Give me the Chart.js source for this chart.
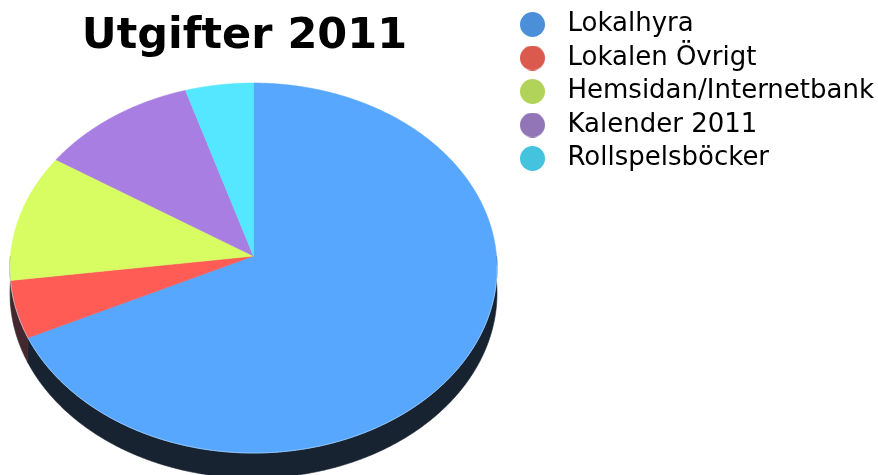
<!DOCTYPE html>
<html>
<head>
<meta charset="utf-8">
<script src="https://cdn.jsdelivr.net/npm/chart.js@4"></script>
<style>
  html, body { margin: 0; padding: 0; background: #fff; }
  #wrap { width: 878px; height: 475px; position: relative; }
</style>
</head>
<body>
<div id="wrap"><canvas id="pie"></canvas></div>
<script>
var labels = ["Lokalhyra", "Lokalen Övrigt", "Hemsidan/Internetbank", "Kalender 2011", "Rollspelsböcker"];
var amounts = [6790, 500, 1120, 1110, 480];
var sliceColors = ["#57a7fe", "#fe5c55", "#d7fd63", "#a97ee3", "#55e7ff"];
var legendColors = ["#4a8fd8", "#db5a4e", "#b1d35a", "#9175b7", "#43c3de"];

var FONT = "'DejaVu Sans', Verdana, sans-serif";

// mix a hex colour towards a dark navy for the pie's side wall
function shade(hex, t) {
    var n = parseInt(hex.slice(1), 16);
    var r = (n >> 16) & 255, g = (n >> 8) & 255, b = n & 255;
    var dr = 20, dg = 28, db = 38;
    return "rgb(" + Math.round(r * (1 - t) + dr * t) + "," + Math.round(g * (1 - t) + dg * t) + "," + Math.round(b * (1 - t) + db * t) + ")";
}

// little round markers for the legend
function dot(color) {
    var c = document.createElement("canvas");
    c.width = 25; c.height = 25;
    var x = c.getContext("2d");
    x.fillStyle = color;
    x.beginPath();
    x.arc(12.5, 12.5, 12.5, 0, Math.PI * 2);
    x.fill();
    return c;
}

// draws the pie tilted, with a bit of perspective and a dark side wall
var pie3d = {
    id: "pie3d",
    afterLayout: function (chart) {
        // title sits a touch left of the chart area centre
        if (chart.titleBlock) {
            chart.titleBlock.left -= 14;
            chart.titleBlock.width += 14;
        }
    },
    beforeDatasetsDraw: function (chart) {
        var meta = chart.getDatasetMeta(0);
        var ctx = chart.ctx;
        var first = meta.data[0];
        var R = first.outerRadius;
        var cx = first.x + 2, cy = first.y - 16.8;
        var rx = R * 1.2018, ry = R * 0.911, k = 0.065, depth = R * 0.124;
        var pt = function (a, dz) {
            var s = 1 / (1 - k * Math.sin(a));
            return [cx + rx * Math.cos(a) * s, cy + ry * Math.sin(a) * s + dz];
        };
        var step = 0.005;

        // side wall (front half only)
        meta.data.forEach(function (arc, i) {
            for (var n = -1; n <= 1; n++) {
                var lo = Math.max(arc.startAngle, 2 * Math.PI * n);
                var hi = Math.min(arc.endAngle, Math.PI + 2 * Math.PI * n);
                if (hi <= lo) continue;
                ctx.save();
                ctx.beginPath();
                var a, p;
                for (a = lo; a < hi; a += step) { p = pt(a, 0); ctx.lineTo(p[0], p[1]); }
                p = pt(hi, 0); ctx.lineTo(p[0], p[1]);
                for (a = hi; a > lo; a -= step) { p = pt(a, depth); ctx.lineTo(p[0], p[1]); }
                p = pt(lo, depth); ctx.lineTo(p[0], p[1]);
                ctx.closePath();
                ctx.fillStyle = shade(sliceColors[i], i === 0 ? 0.95 : 0.8);
                ctx.fill();
                ctx.strokeStyle = ctx.fillStyle;
                ctx.lineWidth = 0.6;
                ctx.stroke();
                ctx.restore();
            }
        });

        // top faces
        meta.data.forEach(function (arc, i) {
            ctx.save();
            ctx.beginPath();
            ctx.moveTo(cx, cy);
            var a, p;
            for (a = arc.startAngle; a < arc.endAngle; a += step) { p = pt(a, 0); ctx.lineTo(p[0], p[1]); }
            p = pt(arc.endAngle, 0); ctx.lineTo(p[0], p[1]);
            ctx.closePath();
            ctx.fillStyle = sliceColors[i];
            ctx.fill();
            ctx.strokeStyle = sliceColors[i];
            ctx.lineWidth = 0.6;
            ctx.stroke();
            ctx.restore();
        });

        // faint light rim along the front edge
        ctx.save();
        ctx.beginPath();
        for (var a = 0.05; a < Math.PI - 0.05; a += step) { var p = pt(a, 0); ctx.lineTo(p[0], p[1]); }
        ctx.strokeStyle = "rgba(190,225,255,0.6)";
        ctx.lineWidth = 1;
        ctx.stroke();
        ctx.restore();

        return false;
    }
};

var ctx = document.getElementById("pie");

var chartGraph = new Chart(ctx, {
    type: "pie",
    data: {
        labels: labels,
        datasets: [{
            data: amounts,
            backgroundColor: sliceColors,
            borderWidth: 0,
            hoverOffset: 0
        }]
    },
    options: {
        responsive: true,
        maintainAspectRatio: false,
        animation: false,
        events: [],
        layout: { padding: { top: 4, right: -6, bottom: 0, left: 0 } },
        plugins: {
            tooltip: { enabled: false },
            title: {
                display: true,
                text: "Utgifter 2011",
                position: "top",
                align: "center",
                fullSize: false,
                color: "#000",
                font: { family: FONT, size: 43, weight: "bold" },
                padding: { top: 7, bottom: 8 }
            },
            legend: {
                position: "right",
                align: "start",
                labels: {
                    color: "#000",
                    font: { family: FONT, size: 26 },
                    padding: 7.5,
                    usePointStyle: true,
                    pointStyleWidth: 44,
                    generateLabels: function (chart) {
                        return labels.map(function (t, i) {
                            return {
                                text: t,
                                fillStyle: legendColors[i],
                                strokeStyle: legendColors[i],
                                lineWidth: 0,
                                pointStyle: dot(legendColors[i]),
                                hidden: false,
                                index: i
                            };
                        });
                    }
                }
            }
        }
    },
    plugins: [pie3d]
});
</script>
</body>
</html>
